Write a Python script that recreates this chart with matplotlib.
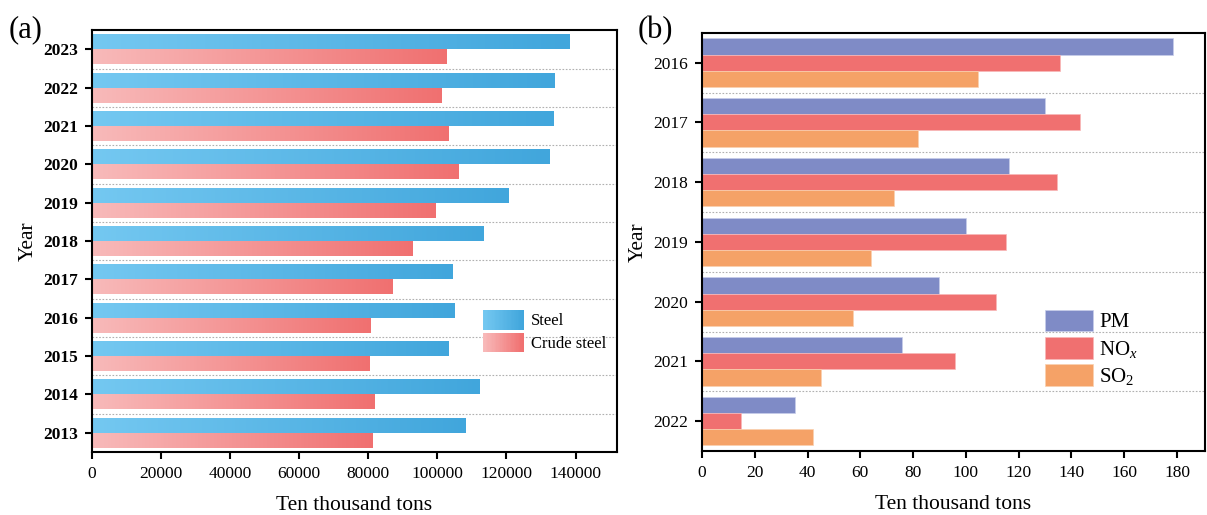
import numpy as np
import matplotlib
matplotlib.use("Agg")
import matplotlib.pyplot as plt
from matplotlib.colors import LinearSegmentedColormap
from matplotlib.legend_handler import HandlerBase
from matplotlib.patches import Rectangle

plt.rcParams['font.family'] = ['Liberation Serif', 'DejaVu Serif']
plt.rcParams['mathtext.fontset'] = 'custom'
plt.rcParams['mathtext.rm'] = 'Liberation Serif'
plt.rcParams['mathtext.it'] = 'Liberation Serif:italic'

# ---------------- data ----------------
years_a = ['2023', '2022', '2021', '2020', '2019', '2018', '2017', '2016', '2015', '2014', '2013']
steel = [138300, 133900, 133700, 132400, 120500, 113300, 104500, 104800, 103300, 112300, 108000]
crude_steel = [102700, 101200, 103300, 106100, 99500, 92700, 86900, 80600, 80200, 81900, 81100]
xticks_a = [0, 20000, 40000, 60000, 80000, 100000, 120000, 140000]

years_b = ['2016', '2017', '2018', '2019', '2020', '2021', '2022']
pm = [178.5, 130.1, 116.4, 99.9, 89.7, 75.9, 35.2]
nox = [135.8, 143.4, 134.7, 115.2, 111.4, 95.8, 14.9]
so2 = [104.6, 82.0, 72.6, 64.0, 57.2, 45.1, 42.2]
xticks_b = [0, 20, 40, 60, 80, 100, 120, 140, 160, 180]

blue_cmap = LinearSegmentedColormap.from_list('bl', ['#74C8F1', '#41A6DC'])
red_cmap = LinearSegmentedColormap.from_list('rd', ['#F8BABA', '#F07070'])
c_pm, c_nox, c_so2 = '#7F8BC6', '#F07070', '#F5A267'

fig = plt.figure(figsize=(12.07, 5.15), dpi=100)
ax1 = fig.add_axes([0.0762, 0.1223, 0.435, 0.819])
ax2 = fig.add_axes([0.5816, 0.1243, 0.4167, 0.812])

grad = np.linspace(0, 1, 256).reshape(1, -1)

# ---------------- panel (a) ----------------
y_a = np.arange(len(years_a))
h = 0.39
b_steel = ax1.barh(y_a - h / 2, steel, height=h, color='none', edgecolor='none')
b_crude = ax1.barh(y_a + h / 2, crude_steel, height=h, color='none', edgecolor='none')
for bars, cmap in ((b_steel, blue_cmap), (b_crude, red_cmap)):
    for p in bars:
        x0, y0, w, hh = p.get_x(), p.get_y(), p.get_width(), p.get_height()
        ax1.imshow(grad, extent=[x0, x0 + w, y0, y0 + hh], aspect='auto', cmap=cmap, zorder=2,
                   interpolation='bilinear')
for yy in y_a[:-1] + 0.5:
    ax1.axhline(yy, color='#B0B0B0', lw=0.8, ls=(0, (1.5, 1.5)), zorder=1)
ax1.set_xlim(0, 152000)
ax1.set_ylim(len(years_a) - 0.5, -0.5)
ax1.set_yticks(y_a)
ax1.set_yticklabels(years_a, fontsize=12.5, fontweight='bold')
ax1.set_xticks(xticks_a)
ax1.set_xticklabels([str(v) for v in xticks_a], fontsize=12.5)
ax1.set_xlabel('Ten thousand tons', fontsize=15.5, labelpad=10)
ax1.set_ylabel('Year', fontsize=15.5, labelpad=4)


class GradHandler(HandlerBase):
    def __init__(self, cmap):
        super().__init__()
        self.cmap = cmap

    def create_artists(self, legend, orig_handle, xdescent, ydescent, width, height, fontsize, trans):
        n = 30
        arts = []
        for i in range(n):
            r = Rectangle((-xdescent + width * i / n, -ydescent), width / n + 0.3, height,
                          facecolor=self.cmap(i / (n - 1)), edgecolor='none', transform=trans)
            arts.append(r)
        return arts


hs = Rectangle((0, 0), 1, 1)
hc = Rectangle((0, 0), 1, 1)
ax1.legend([hs, hc], ['Steel', 'Crude steel'],
           handler_map={hs: GradHandler(blue_cmap), hc: GradHandler(red_cmap)},
           loc='upper left', bbox_to_anchor=(0.745, 0.336), frameon=False, fontsize=12,
           handlelength=2.4, handleheight=1.4, handletextpad=0.45, labelspacing=0.2,
           borderpad=0, borderaxespad=0)

# ---------------- panel (b) ----------------
y_b = np.arange(len(years_b))
hb = 0.27
ax2.barh(y_b - hb, pm, height=hb, color=c_pm, edgecolor='#C8CDEA', lw=0.5, label='PM', zorder=2)
ax2.barh(y_b, nox, height=hb, color=c_nox, edgecolor='#F8B8B8', lw=0.5, label='NO$_x$', zorder=2)
ax2.barh(y_b + hb, so2, height=hb, color=c_so2, edgecolor='#FAD0B0', lw=0.5, label='SO$_2$', zorder=2)
for yy in y_b[:-1] + 0.5:
    ax2.axhline(yy, color='#B0B0B0', lw=0.8, ls=(0, (1.5, 1.5)), zorder=1)
ax2.set_xlim(0, 190.6)
ax2.set_ylim(len(years_b) - 0.5, -0.5)
ax2.set_yticks(y_b)
ax2.set_yticklabels(years_b, fontsize=12.5)
ax2.set_xticks(xticks_b)
ax2.set_xticklabels([str(v) for v in xticks_b], fontsize=12.5)
ax2.set_xlabel('Ten thousand tons', fontsize=15.5, labelpad=10)
ax2.set_ylabel('Year', fontsize=15.5, labelpad=4)
ax2.legend(loc='upper left', bbox_to_anchor=(0.682, 0.338), frameon=False, fontsize=15,
           handlelength=2.3, handleheight=1.22, handletextpad=0.3, labelspacing=0.22,
           borderpad=0, borderaxespad=0)

for ax in (ax1, ax2):
    for s in ax.spines.values():
        s.set_linewidth(1.5)
        s.set_color('black')
    ax.tick_params(axis='both', which='both', direction='out', length=5, width=1.5,
                   top=False, right=False, pad=5)

fig.text(0.007, 0.943, '(a)', fontsize=22, va='center', ha='left')
fig.text(0.528, 0.94, '(b)', fontsize=22, va='center', ha='left')

fig.savefig('out.png', dpi=100)
